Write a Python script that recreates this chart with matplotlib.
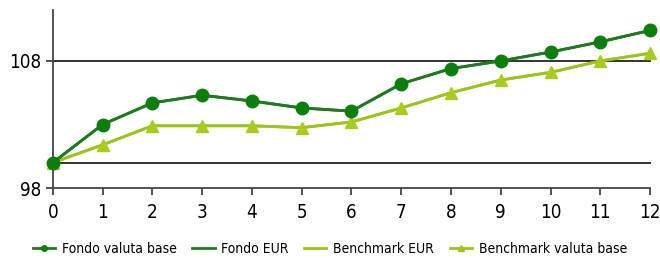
import matplotlib
matplotlib.use("Agg")
import matplotlib.pyplot as plt
from matplotlib.lines import Line2D

# months since start
mesi = list(range(13))
fondo = [100.0, 103.0, 104.7, 105.3, 104.85, 104.3, 104.05, 106.2, 107.4, 108.0, 108.7, 109.5, 110.4]
benchmark = [100.0, 101.4, 102.9, 102.9, 102.9, 102.75, 103.2, 104.3, 105.5, 106.5, 107.1, 108.0, 108.6]
y_ticks = [98, 108]
grid_lines = [100, 108]

dark = '#1f7a1f'
dark_mk = '#0a800a'
light = '#9cc41c'

plt.rcParams['font.family'] = ['DejaVu Sans']
plt.rcParams['font.stretch'] = 'condensed'

fig = plt.figure(figsize=(6.6, 2.58), dpi=100)
ax = fig.add_axes([0.080, 0.271, 0.905, 0.690])

for g in grid_lines:
    ax.axhline(g, color='#333333', lw=1.4, zorder=1)

# EUR series sit under the valuta base series
ax.plot(mesi, fondo, color=dark, lw=2, zorder=3)
ax.plot(mesi, benchmark, color=light, lw=2, zorder=2)
ax.plot(mesi, benchmark, color=light, lw=2, marker='^', ms=8, mfc='#a8cc1c', mec='#a8cc1c', zorder=2)
ax.plot(mesi, fondo, color=dark, lw=2, marker='o', ms=9, mfc=dark_mk, mec=dark_mk, zorder=3)

ax.set_xlim(0, 12)
ax.set_ylim(98, 112)
ax.set_xticks(mesi)
ax.set_yticks(y_ticks)
ax.tick_params(axis='both', labelsize=13.5, color='#333333', length=5, width=1.2, pad=3)
ax.tick_params(axis='x', pad=6)
for s in ['top', 'right']:
    ax.spines[s].set_visible(False)
for s in ['left', 'bottom']:
    ax.spines[s].set_color('#444444')
    ax.spines[s].set_linewidth(1.3)
for l in ax.lines:
    l.set_clip_on(False)

handles = [
    Line2D([], [], color=dark, lw=2, marker='o', ms=4, mfc=dark_mk, mec=dark_mk),
    Line2D([], [], color=dark, lw=2),
    Line2D([], [], color=light, lw=2),
    Line2D([], [], color=light, lw=2, marker='^', ms=4, mfc=light, mec=light),
]
labels = ['Fondo valuta base', 'Fondo EUR', 'Benchmark EUR', 'Benchmark valuta base']
fig.legend(handles, labels, loc='center', bbox_to_anchor=(0.5, 0.035), ncol=4, frameon=False,
           fontsize=10, handlelength=1.6, handletextpad=0.5, columnspacing=1.1)

fig.savefig('out.png', dpi=100)
